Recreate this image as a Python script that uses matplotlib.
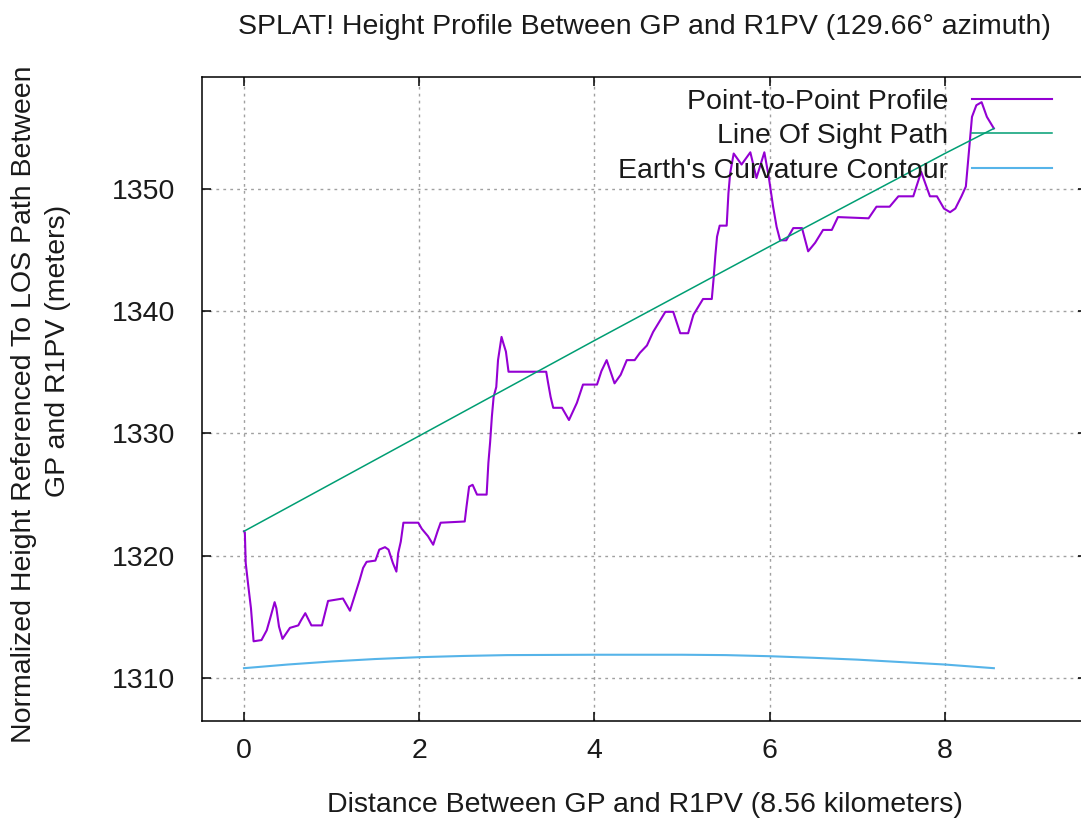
import numpy as np
import matplotlib.pyplot as plt

# distance along path (km) and terrain height (m)
profile_km = [0.00, 0.01, 0.02, 0.05, 0.08, 0.11, 0.20, 0.26, 0.30, 0.35,
              0.37, 0.40, 0.44, 0.525, 0.62, 0.65, 0.70, 0.77, 0.89, 0.925,
              0.96, 1.13, 1.21, 1.26, 1.32, 1.36, 1.40, 1.50, 1.545, 1.61,
              1.65, 1.70, 1.74, 1.76, 1.79, 1.82, 1.99, 2.03, 2.10, 2.16,
              2.21, 2.245, 2.52, 2.54, 2.57, 2.61, 2.66, 2.77, 2.79, 2.81,
              2.83, 2.85, 2.88, 2.90, 2.94, 2.96, 2.99, 3.02, 3.45, 3.47,
              3.50, 3.53, 3.63, 3.71, 3.80, 3.87, 4.03, 4.08, 4.14, 4.23,
              4.30, 4.37, 4.46, 4.52, 4.60, 4.67, 4.73, 4.81, 4.90, 4.93,
              4.98, 5.07, 5.13, 5.21, 5.24, 5.34, 5.36, 5.38, 5.40, 5.43,
              5.51, 5.53, 5.55, 5.59, 5.68, 5.78, 5.85, 5.94, 5.99, 6.04,
              6.08, 6.12, 6.19, 6.27, 6.37, 6.44, 6.52, 6.61, 6.71, 6.78,
              7.13, 7.22, 7.37, 7.47, 7.64, 7.73, 7.83, 7.91, 7.99, 8.06,
              8.12, 8.19, 8.24, 8.27, 8.31, 8.36, 8.42, 8.48, 8.56]
profile_h = [1322.0, 1321.9, 1319.4, 1317.5, 1315.7, 1313.0, 1313.1, 1313.9, 1314.9, 1316.2,
             1315.7, 1314.2, 1313.2, 1314.1, 1314.3, 1314.7, 1315.3, 1314.3, 1314.3, 1315.3,
             1316.3, 1316.5, 1315.5, 1316.65, 1318.0, 1319.0, 1319.5, 1319.6, 1320.5, 1320.7,
             1320.5, 1319.4, 1318.7, 1320.2, 1321.15, 1322.7, 1322.7, 1322.2, 1321.6, 1320.9,
             1322.0, 1322.7, 1322.8, 1324.0, 1325.65, 1325.8, 1325.0, 1325.0, 1327.6, 1329.3,
             1331.4, 1333.0, 1333.8, 1336.0, 1337.9, 1337.4, 1336.7, 1335.05, 1335.05, 1334.2,
             1333.0, 1332.1, 1332.1, 1331.1, 1332.5, 1334.0, 1334.0, 1335.1, 1336.0, 1334.1,
             1334.8, 1336.0, 1336.0, 1336.6, 1337.2, 1338.3, 1339.0, 1339.95, 1339.95, 1339.3,
             1338.2, 1338.2, 1339.7, 1340.65, 1341.0, 1341.0, 1342.6, 1344.5, 1346.1, 1347.0,
             1347.0, 1349.65, 1351.3, 1352.9, 1352.0, 1353.0, 1350.9, 1353.0, 1351.0, 1348.55,
             1346.9, 1345.8, 1345.8, 1346.8, 1346.8, 1344.9, 1345.6, 1346.65, 1346.65, 1347.7,
             1347.6, 1348.55, 1348.55, 1349.4, 1349.4, 1351.4, 1349.4, 1349.4, 1348.4, 1348.1,
             1348.4, 1349.4, 1350.2, 1352.6, 1355.9, 1356.85, 1357.1, 1355.9, 1354.95]

# line of sight path
los_km = [0.0, 2.0, 4.0, 6.0, 8.0, 8.56]
los_h = [1322.0, 1329.8, 1337.6, 1345.3, 1352.9, 1354.95]

# earth's curvature contour
curv_km = [0.0, 0.5, 1.0, 1.5, 2.0, 2.5, 3.0, 4.0, 5.0, 5.5, 6.0, 6.5, 7.0, 7.5, 8.0, 8.56]
curv_h = [1310.8, 1311.1, 1311.35, 1311.55, 1311.7, 1311.8, 1311.87, 1311.9, 1311.9,
          1311.87, 1311.78, 1311.65, 1311.5, 1311.3, 1311.1, 1310.8]

x_ticks = [0, 2, 4, 6, 8]
y_ticks = [1310, 1320, 1330, 1340, 1350]

plt.rcParams['font.family'] = ['Liberation Sans', 'DejaVu Sans']
plt.rcParams['text.color'] = '#1a1a1a'
FS = 20.5

fig = plt.figure(figsize=(10.81, 8.18), dpi=100)
ax = fig.add_axes([0.18686, 0.11858, 0.8187, 0.7873])

ax.plot(profile_km, profile_h, color='#9400d3', lw=1.5, label='Point-to-Point Profile')
ax.plot(los_km, los_h, color='#009e73', lw=1.1, label='Line Of Sight Path')
ax.plot(curv_km, curv_h, color='#56b4e9', lw=1.5, label="Earth's Curvature Contour")

ax.set_xlim(-0.479, 9.623)
ax.set_ylim(1306.48, 1359.16)
ax.set_xticks(x_ticks)
ax.set_yticks(y_ticks)
ax.grid(True, color='#a0a0a0', linestyle=(0, (2, 3)), linewidth=1.0)

ax.tick_params(direction='in', length=6.5, width=1.1, top=True, right=True,
               labelsize=FS, labelcolor='#1a1a1a')
ax.tick_params(axis='x', pad=12)
ax.tick_params(axis='y', pad=19)
for sp in ax.spines.values():
    sp.set_linewidth(1.1)

ax.text(0.5, 1 + 50 / 644, "SPLAT! Height Profile Between GP and R1PV (129.66\u00b0 azimuth)",
        transform=ax.transAxes, ha='center', va='center', fontsize=FS)
ax.text(0.5, -84 / 644, "Distance Between GP and R1PV (8.56 kilometers)",
        transform=ax.transAxes, ha='center', va='center', fontsize=FS)
ax.text(-0.201, 0.492, "Normalized Height Referenced To LOS Path Between",
        transform=ax.transAxes, ha='center', va='center', rotation=90, fontsize=FS)
ax.text(-0.163, 0.5745, "GP and R1PV (meters)",
        transform=ax.transAxes, ha='center', va='center', rotation=90, fontsize=FS)

leg = ax.legend(loc='upper right', bbox_to_anchor=(1052 / 1081, (818 - 88.6) / 818),
                bbox_transform=fig.transFigure, frameon=False, markerfirst=False,
                fontsize=FS, handlelength=2.8, handletextpad=0.84,
                labelspacing=0.30, borderpad=0, borderaxespad=0)

fig.savefig('out.png', dpi=100)
